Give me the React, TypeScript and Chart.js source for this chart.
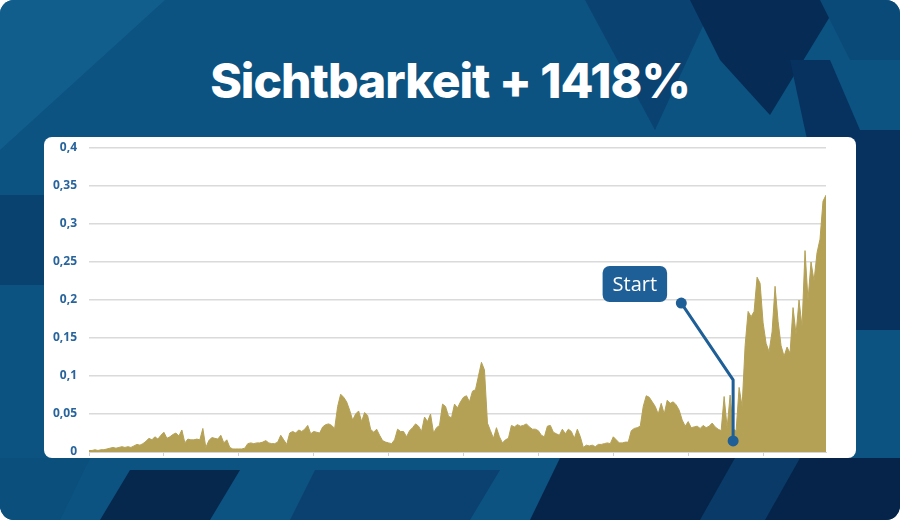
import React, { useEffect, useRef } from "react";
import { Chart, registerables } from "chart.js";

Chart.register(...registerables);

// ---- data (daily visibility index) ----
const VISIBILITY: number[] = [
  // 0-49
  0.002, 0.002, 0.003, 0.002, 0.003, 0.003, 0.004, 0.005, 0.006, 0.005,
  0.006, 0.007, 0.006, 0.007, 0.006, 0.008, 0.010, 0.009, 0.011, 0.014,
  0.018, 0.016, 0.020, 0.017, 0.022, 0.026, 0.018, 0.020, 0.023, 0.025,
  0.021, 0.029, 0.012, 0.017, 0.016, 0.016, 0.017, 0.016, 0.031, 0.006,
  0.015, 0.019, 0.018, 0.017, 0.022, 0.012, 0.016, 0.006, 0.004, 0.004,
  // 50-98
  0.004, 0.004, 0.005, 0.011, 0.012, 0.011, 0.012, 0.012, 0.013, 0.015,
  0.012, 0.011, 0.011, 0.013, 0.022, 0.016, 0.010, 0.025, 0.027, 0.025,
  0.029, 0.027, 0.030, 0.035, 0.024, 0.027, 0.026, 0.025, 0.033, 0.036,
  0.037, 0.035, 0.031, 0.060, 0.076, 0.072, 0.066, 0.055, 0.042, 0.050,
  0.054, 0.040, 0.052, 0.048, 0.030, 0.026, 0.030, 0.022, 0.015,
  // 99-148
  0.013, 0.012, 0.011, 0.016, 0.030, 0.027, 0.027, 0.020, 0.028, 0.032,
  0.037, 0.034, 0.027, 0.046, 0.040, 0.050, 0.025, 0.032, 0.035, 0.063,
  0.060, 0.047, 0.045, 0.063, 0.058, 0.066, 0.072, 0.074, 0.066, 0.080,
  0.082, 0.100, 0.118, 0.108, 0.038, 0.028, 0.018, 0.032, 0.020, 0.012,
  0.016, 0.018, 0.035, 0.033, 0.036, 0.034, 0.035, 0.037, 0.033, 0.030,
  // 149-197
  0.030, 0.028, 0.022, 0.020, 0.034, 0.035, 0.026, 0.024, 0.022, 0.030,
  0.024, 0.030, 0.027, 0.018, 0.030, 0.020, 0.006, 0.009, 0.008, 0.009,
  0.007, 0.010, 0.010, 0.011, 0.012, 0.011, 0.020, 0.016, 0.012, 0.012,
  0.013, 0.013, 0.028, 0.031, 0.032, 0.034, 0.060, 0.074, 0.072, 0.066,
  0.060, 0.050, 0.064, 0.050, 0.068, 0.064, 0.066, 0.062, 0.055,
  // 198-246
  0.042, 0.034, 0.040, 0.032, 0.033, 0.034, 0.031, 0.035, 0.032, 0.034,
  0.038, 0.033, 0.030, 0.028, 0.073, 0.032, 0.075, 0.030, 0.028, 0.085,
  0.060, 0.140, 0.185, 0.178, 0.185, 0.230, 0.222, 0.170, 0.143, 0.132,
  0.158, 0.218, 0.172, 0.140, 0.126, 0.138, 0.130, 0.190, 0.155, 0.200,
  0.165, 0.265, 0.200, 0.250, 0.225, 0.262, 0.280, 0.330, 0.338,
];

const Y_MIN = 0;
const Y_MAX = 0.4;
const Y_STEP = 0.05;
const X_TICK_STEP = 25;

const TITLE = "Sichtbarkeit + 1418%";

// "Start" annotation, in data units (index, value)
const START_LABEL = "Start";
const START_INDEX = 215;
const START_BOTTOM_VALUE = 0.0145;
const START_BEND_VALUE = 0.095;
const LABEL_DOT_INDEX = 197.7;
const LABEL_DOT_VALUE = 0.196;
const LABEL_INDEX = 182.2;
const LABEL_VALUE = 0.221;

const GOLD = "#b4a156";
const BLUE = "#1f5f97";

const formatTick = (v: number) =>
  v === 0 ? "0" : String(Math.round(v * 100) / 100).replace(".", ",");

const startAnnotation = {
  id: "startAnnotation",
  afterDatasetsDraw(chart: any) {
    const { ctx, scales } = chart;
    const x = scales.x;
    const y = scales.y;
    const bx = x.getPixelForValue(START_INDEX);
    const by = y.getPixelForValue(START_BOTTOM_VALUE);
    const my = y.getPixelForValue(START_BEND_VALUE);
    const dx = x.getPixelForValue(LABEL_DOT_INDEX);
    const dy = y.getPixelForValue(LABEL_DOT_VALUE);
    ctx.save();
    ctx.strokeStyle = BLUE;
    ctx.fillStyle = BLUE;
    ctx.lineWidth = 3;
    ctx.lineJoin = "round";
    ctx.beginPath();
    ctx.moveTo(dx, dy);
    ctx.lineTo(bx, my);
    ctx.lineTo(bx, by);
    ctx.stroke();
    ctx.beginPath();
    ctx.arc(dx, dy, 5.5, 0, Math.PI * 2);
    ctx.fill();
    ctx.beginPath();
    ctx.arc(bx, by, 5.5, 0, Math.PI * 2);
    ctx.fill();

    const lx = x.getPixelForValue(LABEL_INDEX);
    const ly = y.getPixelForValue(LABEL_VALUE);
    ctx.font = '20px "Open Sans"';
    const w = ctx.measureText(START_LABEL).width + 20;
    const h = 36;
    ctx.beginPath();
    ctx.roundRect(lx - w / 2, ly - h / 2, w, h, 7);
    ctx.fill();
    ctx.fillStyle = "#ffffff";
    ctx.textAlign = "center";
    ctx.textBaseline = "middle";
    ctx.fillText(START_LABEL, lx, ly + 1);
    ctx.restore();
  },
};

function VisibilityChart() {
  const ref = useRef<HTMLCanvasElement | null>(null);
  useEffect(() => {
    if (!ref.current) return;
    const points = VISIBILITY.map((v, i) => ({ x: i, y: v }));
    const chart = new Chart(ref.current, {
      type: "line",
      data: {
        datasets: [
          {
            data: points,
            fill: "origin",
            backgroundColor: GOLD,
            borderColor: GOLD,
            borderWidth: 1,
            pointRadius: 0,
            tension: 0,
          },
        ],
      },
      options: {
        responsive: false,
        animation: false,
        layout: { padding: { top: 11, right: 30, bottom: 2, left: 0 } },
        plugins: { legend: { display: false }, tooltip: { enabled: false } },
        scales: {
          x: {
            type: "linear",
            min: 0,
            max: VISIBILITY.length - 1,
            afterFit(scale: any) {
              scale.height = 4;
              scale.paddingLeft = 0;
              scale.paddingRight = 0;
              scale.paddingTop = 0;
              scale.paddingBottom = 0;
            },
            grid: {
              drawOnChartArea: false,
              drawTicks: true,
              tickLength: 4,
              color: "#cfcfcf",
            },
            border: { display: true, color: "#d4d4d4" },
            ticks: { display: false, stepSize: X_TICK_STEP, includeBounds: false },
          },
          y: {
            min: Y_MIN,
            max: Y_MAX,
            afterFit(scale: any) {
              scale.width = 45;
              scale.paddingTop = 0;
              scale.paddingBottom = 0;
            },
            grid: { color: "#dadada", lineWidth: 1.5, drawTicks: false },
            border: { display: false },
            ticks: {
              stepSize: Y_STEP,
              padding: 12,
              color: "#28649c",
              font: { family: '"Open Sans", sans-serif', size: 12, weight: "bold" },
              callback: (v: any) => formatTick(Number(v)),
            },
          },
        },
      },
      plugins: [startAnnotation],
    } as any);
    return () => chart.destroy();
  }, []);
  return <canvas ref={ref} width={812} height={321} style={{ display: "block" }} />;
}

export default function App() {
  useEffect(() => {
    document.body.style.margin = "0";
  }, []);
  return (
    <div
      style={{
        position: "relative",
        width: 900,
        height: 520,
        overflow: "hidden",
        borderRadius: 14,
        background: "#0c5381",
      }}
    >
      <svg
        width={900}
        height={520}
        style={{ position: "absolute", left: 0, top: 0 }}
      >
        <polygon points="0,0 165,0 0,150" fill="#115e8d" />
        <polygon points="585,0 715,0 655,130" fill="#0a4272" />
        <polygon points="690,0 840,0 770,115 720,60" fill="#062b55" />
        <polygon points="820,0 900,0 900,70 850,60" fill="#0a4a78" />
        <polygon points="790,60 900,60 900,330 850,330 805,130" fill="#07325f" />
        <polygon points="830,60 900,60 900,130 860,130" fill="#0c5381" />
        <polygon points="0,195 44,195 44,285 0,285" fill="#0a426f" />
        <polygon points="0,458 90,458 60,520 0,520" fill="#0b4f7c" />
        <polygon points="100,520 130,470 240,470 210,520" fill="#06284d" />
        <polygon points="290,520 315,470 500,470 470,520" fill="#0a4170" />
        <polygon points="530,520 560,458 900,458 900,520" fill="#06244a" />
        <polygon points="700,520 735,458 800,458 765,520" fill="#0a3b68" />
      </svg>
      <div
        style={{
          position: "absolute",
          left: 0,
          top: 57,
          width: 900,
          textAlign: "center",
          color: "#ffffff",
          fontFamily: "Inter, 'Open Sans', sans-serif",
          fontWeight: 800,
          fontSize: 48,
          lineHeight: "48px",
          letterSpacing: -1,
        }}
      >
        {TITLE}
      </div>
      <div
        style={{
          position: "absolute",
          left: 44,
          top: 137,
          width: 812,
          height: 321,
          background: "#ffffff",
          borderRadius: 8,
          overflow: "hidden",
        }}
      >
        <VisibilityChart />
      </div>
    </div>
  );
}
